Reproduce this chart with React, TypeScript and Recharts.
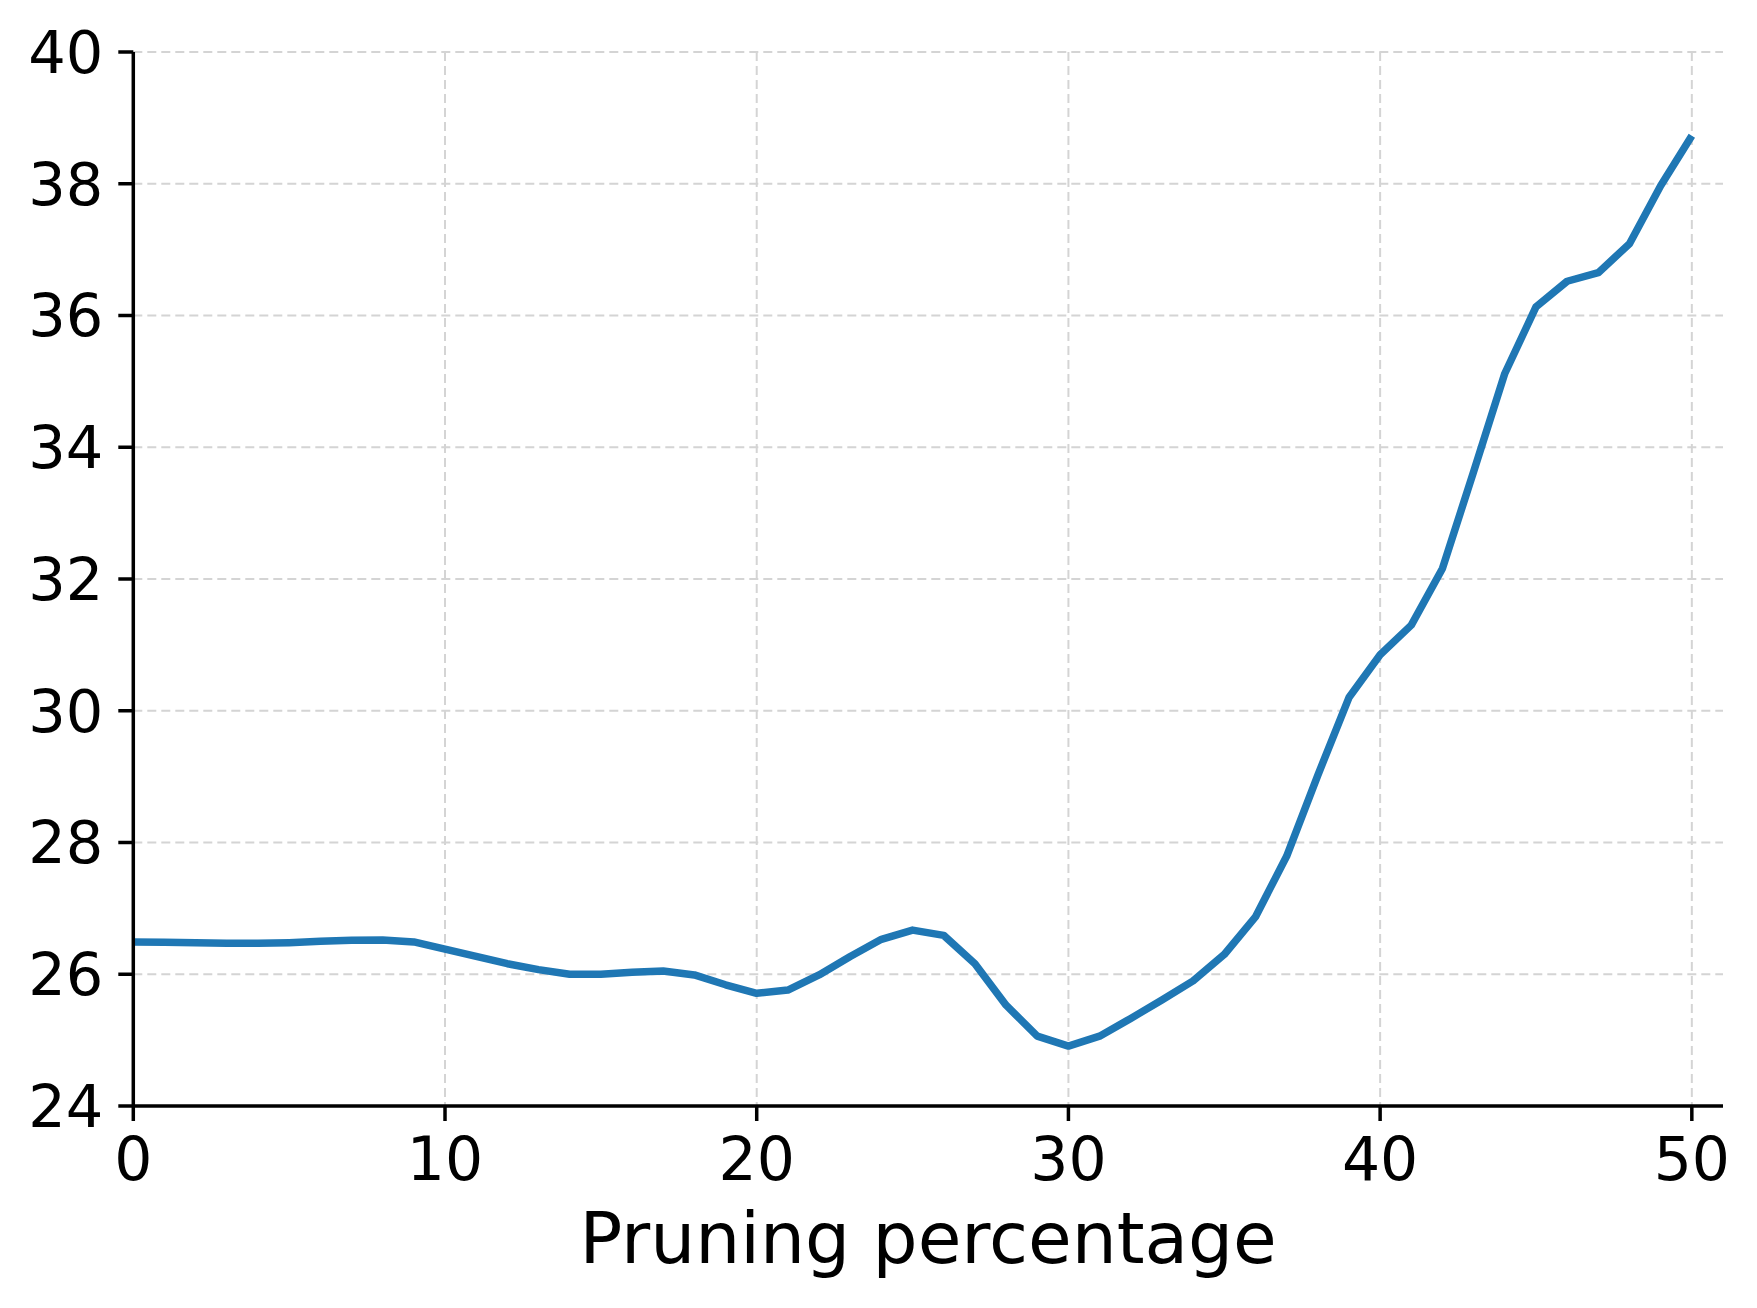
import { LineChart, Line, XAxis, YAxis, CartesianGrid } from "recharts";

const PRUNING_PCT = [
  0, 1, 2, 3, 4, 5, 6, 7, 8, 9, 10, 11, 12, 13, 14, 15, 16, 17, 18, 19, 20,
  21, 22, 23, 24, 25, 26, 27, 28, 29, 30, 31, 32, 33, 34, 35, 36, 37, 38, 39,
  40, 41, 42, 43, 44, 45, 46, 47, 48, 49, 50,
];

const METRIC = [
  26.49, 26.485, 26.48, 26.47, 26.47, 26.48, 26.5, 26.515, 26.52, 26.49,
  26.38, 26.27, 26.16, 26.07, 26.0, 26.0, 26.03, 26.05, 25.99, 25.84,
  25.71, 25.76, 25.99, 26.27, 26.53, 26.67, 26.59, 26.16, 25.53, 25.06,
  24.91, 25.06, 25.33, 25.61, 25.9, 26.3, 26.87, 27.79, 29.02, 30.2,
  30.85, 31.3, 32.16, 33.63, 35.12, 36.13, 36.52, 36.65, 37.09, 37.97,
  38.73,
];

const X_TICKS = [0, 10, 20, 30, 40, 50];
const Y_TICKS = [24, 26, 28, 30, 32, 34, 36, 38, 40];

const X_LABEL = "Pruning percentage";

const FONT = "DejaVu Sans";
const LINE_COLOR = "#1f77b4";
const GRID_COLOR = "#d4d4d4";

const rows = PRUNING_PCT.map((pct, i) => ({ pct, value: METRIC[i] }));

// matplotlib-style xlabel, placed under the tick labels
const XLabel = (props: any) => {
  const vb = props.viewBox ?? {};
  return (
    <text
      x={vb.x + vb.width / 2}
      y={vb.y + 157}
      textAnchor="middle"
      fontFamily={FONT}
      fontSize={71}
      fill="#000"
    >
      {X_LABEL}
    </text>
  );
};

export default function App() {
  return (
    <div
      style={{
        position: "absolute",
        left: 0,
        top: 0,
        width: 1757,
        height: 1308,
        background: "#fff",
      }}
    >
      <LineChart
        width={1757}
        height={1308}
        data={rows}
        margin={{ top: 52, right: 34, left: 13.3, bottom: 52 }}
      >
        <CartesianGrid
          stroke={GRID_COLOR}
          strokeWidth={2}
          strokeDasharray="9 5"
          horizontalValues={Y_TICKS}
          verticalValues={X_TICKS}
        />
        <XAxis
          dataKey="pct"
          type="number"
          domain={[0, 51]}
          ticks={X_TICKS}
          interval={0}
          height={150}
          axisLine={{ stroke: "#000", strokeWidth: 3.5 }}
          tickLine={{ stroke: "#000", strokeWidth: 3.5 }}
          tickSize={15}
          tickMargin={16}
          tick={{ fill: "#000", fontSize: 60, fontFamily: FONT }}
          label={XLabel}
        />
        <YAxis
          type="number"
          domain={[24, 40]}
          ticks={Y_TICKS}
          interval={0}
          width={120}
          allowDataOverflow
          axisLine={{ stroke: "#000", strokeWidth: 3.5 }}
          tickLine={{ stroke: "#000", strokeWidth: 3.5 }}
          tickSize={15}
          tickMargin={15}
          tick={{ fill: "#000", fontSize: 59, fontFamily: FONT }}
        />
        <Line
          type="linear"
          dataKey="value"
          stroke={LINE_COLOR}
          strokeWidth={7.5}
          dot={false}
          activeDot={false}
          strokeLinejoin="round"
          strokeLinecap="butt"
          isAnimationActive={false}
        />
      </LineChart>
    </div>
  );
}
